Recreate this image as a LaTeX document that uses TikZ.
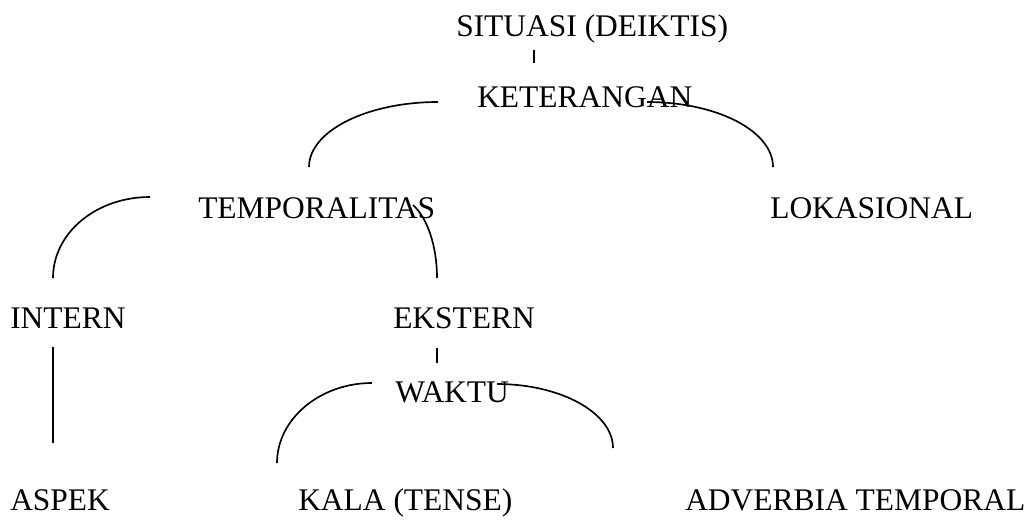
\documentclass[tikz,border=0pt]{standalone}
\usepackage{fontspec}
\setmainfont{Liberation Serif}
\begin{document}
\begin{tikzpicture}[x=0.75pt,y=-0.75pt,
  term/.style={anchor=base west,inner sep=0pt,font=\fontsize{23.6}{28}\selectfont},
  branch/.style={line width=1.25pt}]
\useasboundingbox (0,0) rectangle (1031,519);

% terms of the tree
\node[term] (situasi) at (456,36) {SITUASI (DEIKTIS)};
\node[term] (ket) at (477,107) {KETERANGAN};
\node[term] (temp) at (198,218) {TEMPORALITAS};
\node[term] (lok) at (770,218) {LOKASIONAL};
\node[term] (intern) at (10,328) {INTERN};
\node[term] (ekstern) at (393,328) {EKSTERN};
\node[term] (waktu) at (395,402) {WAKTU};
\node[term] (aspek) at (10,510) {ASPEK};
\node[term] (kala) at (298,510) {KALA (TENSE)};
\node[term] (adv) at (685,510) {ADVERBIA TEMPORAL};

% end points of the branches
\coordinate (s1) at (534,50);  \coordinate (s2) at (534,63);
\coordinate (k1) at (438,102); \coordinate (k2) at (309,167);
\coordinate (k3) at (647,102); \coordinate (k4) at (773,167);
\coordinate (t1) at (150,197); \coordinate (t2) at (53,278);
\coordinate (t3) at (413,205); \coordinate (t4) at (437,278);
\coordinate (e1) at (437,348); \coordinate (e2) at (437,363);
\coordinate (i1) at (53,347);  \coordinate (i2) at (53,443);
\coordinate (w1) at (372,383); \coordinate (w2) at (277,463);
\coordinate (w3) at (497,384); \coordinate (w4) at (613,448);

% short ticks and straight stem
\draw[branch] (s1) -- (s2);
\draw[branch] (e1) -- (e2);
\draw[branch] (i1) -- (i2);

% quarter-ellipse branches
\draw[branch] (k1) .. controls (367,102) and (309,131) .. (k2);
\draw[branch] (k3) .. controls (717,102) and (773,131) .. (k4);
\draw[branch] (t1) .. controls (96,197) and (53,233) .. (t2);
\draw[branch] (t3) .. controls (427.7,218.3) and (437,246.7) .. (t4);
\draw[branch] (w1) .. controls (320,383) and (277,419) .. (w2);
\draw[branch] (w3) .. controls (561,384) and (613,413) .. (w4);
\end{tikzpicture}
\end{document}
